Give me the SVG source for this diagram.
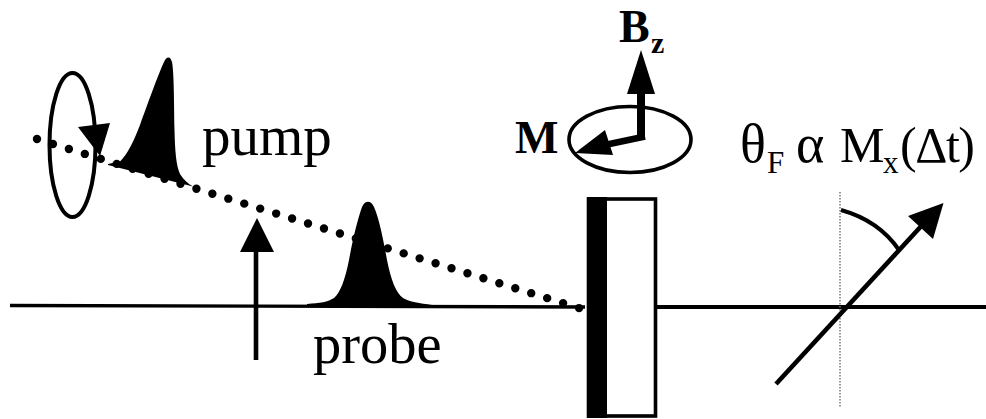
<svg xmlns="http://www.w3.org/2000/svg" width="986" height="419" viewBox="0 0 986 419">
<style>
text{font-family:"Liberation Serif","Times New Roman",serif;fill:#000}
.b{font-weight:bold}
.o{fill:none;stroke:#000}
.k{fill:#000;stroke:none}
</style>
<rect width="986" height="419" fill="#fff"/>
<g id="connectors">
<path class="o" d="M10 305.5L585 307" stroke-width="3.4"/>
<path class="o" d="M657 307H986" stroke-width="3.8"/>
<path class="o" d="M37 139L582 309" stroke-width="8.4" stroke-linecap="round" stroke-dasharray="0 16.7"/>
</g>
<g id="pump-polarization">
<ellipse class="o" cx="72.5" cy="145" rx="23" ry="72" stroke-width="4"/>
<path class="k" d="M78 127L110 123L100 156Z"/>
</g>
<g id="pump-pulse">
<path class="k" d="M108 164L120 161.500C127 155 133 143 140 125C148 103 158 75 164 62C166 57 170 55 172 62C174 72 174 100 174.500 130C175 150 176 165 180 174C184 180 188 184 193 186.500L108 165Z"/>
<text x="202" y="155" font-size="57">pump</text>
</g>
<g id="probe-pulse">
<path class="k" d="M307 304C320 303 328 302 334 298C340 293 345 280 349 260C353 238 358 218 362 207C365 200 371 200 374 207C379 218 383 238 387 260C391 280 396 293 403 298C409 302 420 303 432 305L307 306Z"/>
<text x="313" y="363" font-size="56.500">probe</text>
</g>
<g id="field-arrow">
<path class="o" d="M256 360V250" stroke-width="4.600"/>
<path class="k" d="M257 218L274 252H240Z"/>
</g>
<g id="sample">
<rect x="588.500" y="199" width="67" height="217" fill="#fff" stroke="#000" stroke-width="3.600"/>
<rect class="k" x="587" y="197" width="20" height="221"/>
</g>
<g id="magnetization">
<ellipse class="o" cx="630" cy="139.500" rx="61" ry="33" stroke-width="3.600"/>
<path class="o" d="M641 90V139" stroke-width="8"/>
<path class="k" d="M641 50L655 94H627Z"/>
<path class="o" d="M645 136.500L600 146" stroke-width="6.500"/>
<path class="k" d="M575 153L605 130L613 155Z"/>
<text class="b" x="515" y="153" font-size="46">M</text>
<text class="b" x="619" y="42" font-size="46">B</text>
<text class="b" x="651" y="53" font-size="30">z</text>
</g>
<g id="formula">
<text x="740" y="162" font-size="54">θ</text>
<text x="767" y="173" font-size="31">F</text>
<text x="796" y="162" font-size="54">α</text>
<text x="840" y="162" font-size="50">M</text>
<text x="883" y="173" font-size="31">x</text>
<text x="900" y="162" font-size="50" textLength="75" lengthAdjust="spacing">(Δt)</text>
</g>
<g id="analyzer">
<path d="M840 192V407" fill="none" stroke="#777" stroke-width="1.500" stroke-dasharray="1.500 1.500"/>
<path class="o" d="M776 384L925 222" stroke-width="4.600"/>
<path class="k" d="M943.500 203L908 216L933 239Z"/>
<path class="o" d="M841 210C866 217 886 231 899 250" stroke-width="4"/>
</g>
</svg>
